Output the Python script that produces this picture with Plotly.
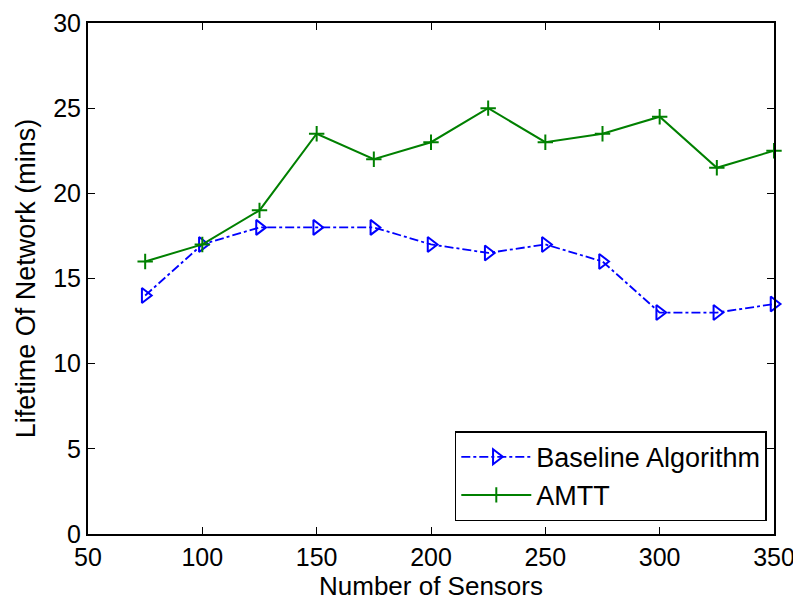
import plotly.graph_objects as go

sensors = [75, 100, 125, 150, 175, 200, 225, 250, 275, 300, 325, 350]
baseline = [14, 17, 18, 18, 18, 17, 16.5, 17, 16, 13, 13, 13.5]
amtt = [16, 17, 19, 23.5, 22, 23, 25, 23, 23.5, 24.5, 21.5, 22.5]
x_ticks = [50, 100, 150, 200, 250, 300, 350]
y_ticks = [0, 5, 10, 15, 20, 25, 30]

FONT = "Liberation Sans, Arial"

fig = go.Figure()
fig.add_trace(go.Scatter(
    x=sensors, y=baseline, mode="lines+markers", name="Baseline Algorithm",
    line=dict(color="#0000ff", width=1.8, dash="dashdot"),
    marker=dict(symbol="triangle-right-open", size=13, color="#0000ff", line=dict(width=2, color="#0000ff")),
    cliponaxis=False,
))
fig.add_trace(go.Scatter(
    x=sensors, y=amtt, mode="lines+markers", name="AMTT",
    line=dict(color="#008000", width=2),
    marker=dict(symbol="cross-thin-open", size=11, color="#008000", line=dict(width=2, color="#008000")),
    cliponaxis=False,
))

axis_common = dict(
    showgrid=False, zeroline=False, showline=True, linecolor="black", linewidth=2,
    mirror="ticks", ticks="inside", ticklen=7, tickcolor="black", tickwidth=1.2,
    tickfont=dict(family=FONT, size=25, color="black"), automargin=False,
)
fig.update_xaxes(range=[50, 350], tickvals=x_ticks, **axis_common)
fig.update_yaxes(range=[0, 30], tickvals=y_ticks,
                 title=dict(text="Lifetime Of Network (mins)", font=dict(family=FONT, size=27, color="black"), standoff=10),
                 **axis_common)

fig.add_annotation(text="Number of Sensors", xref="paper", yref="paper", x=0.5, y=0,
                   xanchor="center", yanchor="middle", yshift=-52, showarrow=False,
                   font=dict(family=FONT, size=26, color="black"))

fig.update_layout(
    width=793, height=596,
    margin=dict(l=80, r=27, t=15, b=70),
    plot_bgcolor="white", paper_bgcolor="white",
    font=dict(family=FONT, color="black"),
    legend=dict(x=0.9895, y=0.025, xanchor="right", yanchor="bottom",
                bgcolor="white", bordercolor="black", borderwidth=1.5,
                itemwidth=70,
                font=dict(size=27, color="black"), tracegroupgap=0),
    showlegend=True,
)

fig.write_html("out.html")
